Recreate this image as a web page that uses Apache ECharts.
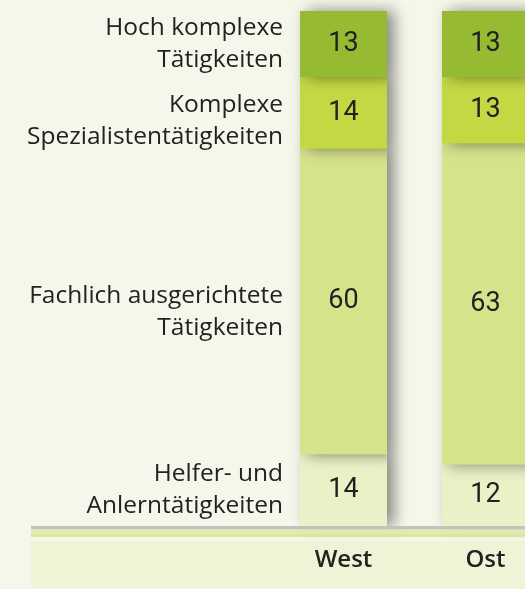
<!DOCTYPE html>
<html>
<head>
<meta charset="utf-8">
<script src="https://cdn.jsdelivr.net/npm/echarts@6/dist/echarts.min.js"></script>
<style>
  html, body { margin: 0; padding: 0; background: #f5f7ea; overflow: hidden; }
  /* Die Ost-Säule ragt über den rechten Bildrand hinaus */
  #main { width: 557px; height: 589px; }
</style>
</head>
<body>
<div id="main"></div>
<script>
// Regionen
var regions = ['West', 'Ost'];

// Anteile in Prozent, von unten nach oben gestapelt
var helfer = [14, 12];
var fachlich = [60, 63];
var spezialist = [14, 13];
var hochKomplex = [13, 13];

var names = [
  'Helfer- und\nAnlerntätigkeiten',
  'Fachlich ausgerichtete\nTätigkeiten',
  'Komplexe\nSpezialistentätigkeiten',
  'Hoch komplexe\nTätigkeiten'
];
var values = [helfer, fachlich, spezialist, hochKomplex];
var colors = ['#e9f1c6', '#d6e38b', '#c4d843', '#96ba32'];
var nameOffsets = [[0, 0], [0, 10], [0, 8], [0, 0]];

var myChart = echarts.init(document.getElementById('main'));

var series = [];
values.forEach(function (v, i) {
  series.push({
    name: names[i],
    type: 'bar',
    stack: 'anteil',
    data: v,
    barWidth: 87,
    barGap: '-100%',
    itemStyle: {
      color: colors[i],
      shadowColor: 'rgba(0,0,0,0.45)',
      shadowBlur: 14,
      shadowOffsetX: 7
    },
    z: 2,
    label: {
      show: true,
      position: 'inside',
      color: '#222',
      fontFamily: 'Roboto',
      fontSize: 27
    },
    silent: true
  });
});
// unsichtbare Kopie nur für die Beschriftung links
values.forEach(function (v, i) {
  series.push({
    name: names[i] + ' ',
    type: 'bar',
    stack: 'namen',
    data: [v[0], '-'],
    barWidth: 87,
    barGap: '-100%',
    itemStyle: { color: 'rgba(0,0,0,0)' },
    z: 3,
    label: {
      show: true,
      position: 'left',
      distance: 17,
      offset: nameOffsets[i],
      formatter: names[i],
      align: 'right',
      color: '#222',
      fontFamily: 'Open Sans',
      fontSize: 24.5,
      lineHeight: 32
    },
    silent: true
  });
});

myChart.setOption({
  backgroundColor: '#f5f7ea',
  animation: false,
  grid: { left: 272.5, width: 284, top: 11, height: 515 },
  xAxis: {
    type: 'category',
    data: regions,
    axisLine: { show: false },
    axisTick: { show: false },
    axisLabel: {
      margin: 22,
      color: '#222',
      fontFamily: 'Open Sans',
      fontWeight: 600,
      fontSize: 24
    },
    z: 5
  },
  yAxis: {
    type: 'value',
    min: 0,
    max: 101,
    show: false
  },
  graphic: [
    { type: 'rect', z: 0, shape: { x: 31, y: 541, width: 526, height: 48 }, style: { fill: '#eef4d6' } },
    { type: 'rect', z: 10, shape: { x: 31, y: 526, width: 526, height: 3.5 }, style: { fill: '#c2c3bd' } },
    { type: 'rect', z: 10, shape: { x: 31, y: 529.5, width: 526, height: 4 }, style: { fill: '#e0e9b2' } },
    { type: 'rect', z: 10, shape: { x: 31, y: 533.5, width: 526, height: 3.5 }, style: { fill: '#dce79e' } }
  ],
  series: series
});
</script>
</body>
</html>
